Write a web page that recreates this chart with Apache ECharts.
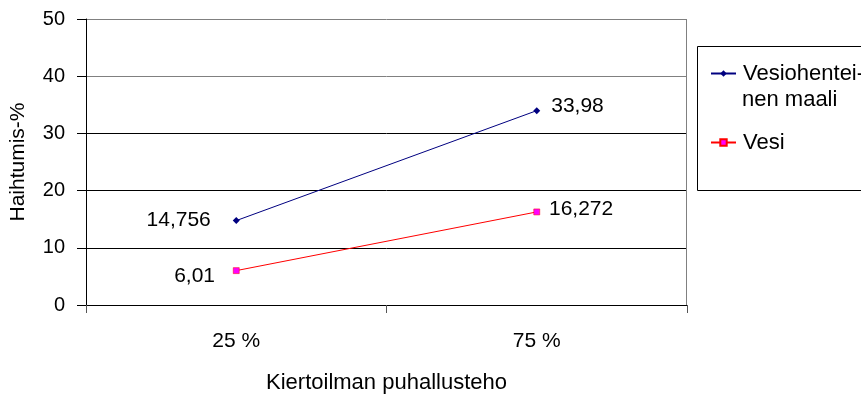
<!DOCTYPE html>
<html><head><meta charset="utf-8">
<script src="https://cdn.jsdelivr.net/npm/echarts@6/dist/echarts.min.js"></script>
<style>html,body{margin:0;padding:0;background:#fff}#c{width:861px;height:394px}</style>
</head><body><div id="c"></div>
<script>
const categories = ['25 %', '75 %'];
const seriesNames = ['Vesiohentei-nen maali', 'Vesi'];
const paint = [14.756, 33.98];
const water = [6.01, 16.272];
const yTicks = [0, 10, 20, 30, 40, 50];

const FONT = 'Liberation Sans, Arial, sans-serif';
const FS = 21;
const fmt = p => String(p.value).replace('.', ',');
const lbl = (pos, dx, dy) => ({ show: true, position: pos, distance: 0, offset: [dx, dy], formatter: fmt,
  color: '#000', fontFamily: FONT, fontSize: FS });

const chart = echarts.init(document.getElementById('c'));
chart.setOption({
  animation: false,
  backgroundColor: '#fff',
  grid: { left: 86, top: 19, right: 174, bottom: 89, containLabel: false, outerBoundsMode: 'none' },
  xAxis: {
    type: 'category', data: categories, boundaryGap: true,
    name: 'Kiertoilman puhallusteho', nameLocation: 'middle', nameGap: 67,
    nameTextStyle: { color: '#000', fontFamily: FONT, fontSize: 22 },
    axisLine: { lineStyle: { color: '#000', width: 1 } },
    axisTick: { show: true, length: 8, inside: false, alignWithLabel: false, lineStyle: { color: '#555' } },
    axisLabel: { color: '#000', fontFamily: FONT, fontSize: FS, margin: 26 },
    splitLine: { show: false }
  },
  yAxis: {
    type: 'value', min: yTicks[0], max: yTicks[yTicks.length - 1], interval: 10,
    name: 'Haihtumis-%', nameLocation: 'middle', nameGap: 57, nameRotate: 90,
    nameTextStyle: { color: '#000', fontFamily: FONT, fontSize: FS },
    axisLine: { show: true, lineStyle: { color: '#000', width: 1 } },
    axisTick: { show: true, length: 9, lineStyle: { color: '#000' } },
    axisLabel: { color: '#000', fontFamily: FONT, fontSize: 20, margin: 21 },
    splitLine: { show: true, lineStyle: { color: ['#000', '#000', '#000', '#000', '#808080', '#808080'], width: 1 } }
  },
  legend: [
    { data: [seriesNames[0]], left: 710, top: 62.5, padding: 0, itemWidth: 25, itemHeight: 8, itemGap: 0,
      formatter: () => 'Vesiohentei-', selectedMode: false,
      textStyle: { color: '#000', fontFamily: FONT, fontSize: 22, padding: [0, 0, 0, 2] } },
    { data: [seriesNames[1]], left: 710, top: 131.5, padding: 0, itemWidth: 25, itemHeight: 8, itemGap: 0,
      selectedMode: false,
      textStyle: { color: '#000', fontFamily: FONT, fontSize: 22, padding: [0, 0, 0, 2] } }
  ],
  graphic: [
    { type: 'rect', z: -1, shape: { x: 697.5, y: 46.5, width: 220, height: 144 },
      style: { fill: '#fff', stroke: '#000', lineWidth: 1 } },
    { type: 'line', z: 1, shape: { x1: 686.5, y1: 19, x2: 686.5, y2: 305 },
      style: { stroke: '#808080', lineWidth: 1 } },
    { type: 'text', x: 742, y: 100, style: { text: 'nen maali', fill: '#000', font: '22px ' + FONT,
      align: 'left', verticalAlign: 'middle' } }
  ],
  series: [
    { name: seriesNames[0], type: 'line', data: [
        { value: paint[0], label: lbl('left', -22, 0) },
        { value: paint[1], label: lbl('right', 11, -4) } ],
      symbol: 'diamond', symbolSize: 7, lineStyle: { color: '#000080', width: 1 },
      itemStyle: { color: '#000080' } },
    { name: seriesNames[1], type: 'line', data: [
        { value: water[0], label: lbl('left', -18, 6) },
        { value: water[1], label: lbl('right', 9, -3) } ],
      symbol: 'rect', symbolSize: 6, lineStyle: { color: '#FF0000', width: 1 },
      itemStyle: { color: '#FF00FF', borderColor: '#FF0000', borderWidth: 0.5 } }
  ]
});
</script></body></html>
